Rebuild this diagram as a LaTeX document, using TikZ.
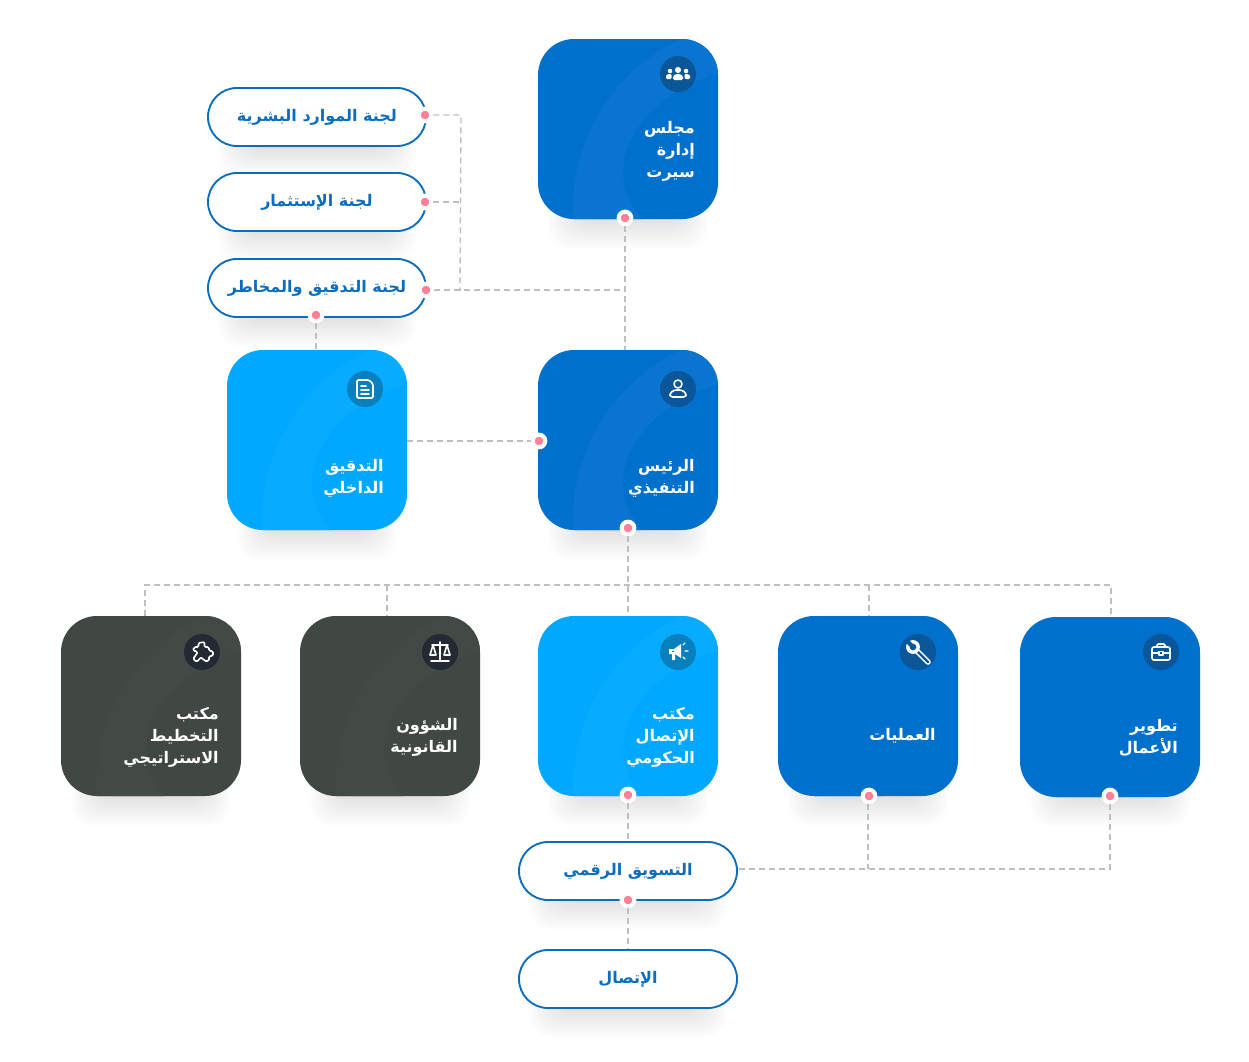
\documentclass[tikz,border=0pt]{standalone}
\usepackage{fontspec}
\TeXXeTstate=1
\newfontfamily\arfont[Script=Arabic]{DejaVu Sans}
\definecolor{bluecard}{HTML}{0070CD}
\definecolor{bluering}{HTML}{0A75D0}
\definecolor{blueicon}{HTML}{0B5599}
\definecolor{skycard}{HTML}{00A8FF}
\definecolor{skyring}{HTML}{07ABFF}
\definecolor{skyicon}{HTML}{0880BE}
\definecolor{darkcard}{HTML}{414743}
\definecolor{darkring}{HTML}{434945}
\definecolor{darkicon}{HTML}{232A33}
\definecolor{pillblue}{HTML}{0B6DBD}
\definecolor{dotpink}{HTML}{FF8099}
\definecolor{connect}{HTML}{BFBFBF}
\tikzset{
  cardbase/.style={rectangle,rounded corners=27pt,minimum width=135pt,minimum height=135pt,inner sep=0pt},
  pillbase/.style={rectangle,rounded corners=21.7pt,minimum width=163.5pt,minimum height=43.5pt,inner sep=0pt,draw=pillblue,line width=1.4pt,fill=white,text=pillblue,font=\arfont\bfseries\fontsize{12}{14}\selectfont},
  cardtext/.style={anchor=east,align=right,inner sep=0pt,text=white,font=\arfont\bfseries\fontsize{12}{16.5}\selectfont},
  conn/.style={draw=connect,line width=1.05pt,dash pattern=on 4.5pt off 3pt},
  pinkdot/.style={circle,fill=dotpink,draw=white,line width=3pt,minimum size=9.5pt,inner sep=0pt},
  badge/.style={circle,minimum size=27pt,inner sep=0pt},
  glyph/.style={draw=white,line width=1.2pt,line cap=round,line join=round,fill=none},
}
\newcommand{\softshadow}[4]{% x1 y1 x2 y2
  \foreach \s in {0,1,...,30}{
    \fill[black,opacity=0.0048,rounded corners=15pt] (#1+40-\s,#4-30) rectangle (#3-40+\s,#4+\s);
  }
}
\newcommand{\cardbox}[5]{% name cx cy fill ring
  \node[cardbase,fill=#4] (#1) at (#2,#3) {};
  \begin{scope}
    \clip[rounded corners=27pt] (#2-90,#3-90) rectangle (#2+90,#3+90);
    \fill[#5,even odd rule] (#2+133,#3+80) circle (141pt)
      (#2+92,#3-56) .. controls (#2+35,#3-40) and (#2-5,#3) .. (#2-5,#3+44)
      .. controls (#2-5,#3+60) and (#2+3,#3+78) .. (#2+15,#3+92) -- (#2+92,#3+92) -- cycle;
  \end{scope}
}
\newcommand{\badgeicon}[5]{% name x y fill glyph
  \node[badge,fill=#4] (#1) at (#2,#3) {};
  \begin{scope}[shift={(#2,#3)}]#5\end{scope}
}
\newcommand{\ar}[1]{\beginR #1\endR}
\newcommand{\pilltext}[1]{\raisebox{-1.2pt}{\ar{#1}}}
\newcommand{\gpeople}{
  \fill[white] (0,-4) circle (2.3pt);
  \fill[white] (-8,-3) circle (1.7pt) (8,-3) circle (1.7pt);
  \fill[white,rounded corners=1pt] (-5,6) -- (-5,2) -- (-2,0) -- (2,0) -- (5,2) -- (5,6) -- cycle;
  \fill[white,rounded corners=.8pt] (-12,5) -- (-12,1) -- (-9,0) -- (-6.5,0) -- (-6.5,5) -- cycle;
  \fill[white,rounded corners=.8pt] (12,5) -- (12,1) -- (9,0) -- (6.5,0) -- (6.5,5) -- cycle;
}
\newcommand{\guser}{
  \draw[glyph] (0,-5) circle (3pt);
  \draw[glyph,rounded corners=2pt] (-8,8) -- (-8,4) -- (-4,1) -- (4,1) -- (8,4) -- (8,8) -- cycle;
}
\newcommand{\gdoc}{
  \draw[glyph,rounded corners=1pt] (-8,-9) -- (4,-9) -- (8,-5) -- (8,9) -- (-8,9) -- cycle;
  \draw[glyph] (-4,-3) -- (1,-3) (-4,1) -- (4,1) (-4,5) -- (4,5);
}
\newcommand{\gpuzzle}{
  \draw[glyph,rounded corners=1.2pt] (-8,-5) -- (-3,-5) -- (-4,-9) -- (3,-10) -- (2,-5) -- (7,-5) -- (7,-1) -- (11,-1) -- (11,4) -- (7,4) -- (7,9) -- (2,9) -- (1,6) -- (-3,6) -- (-3,9) -- (-8,9) -- (-8,4) -- (-5,3) -- (-5,-1) -- (-9,-1) -- cycle;
}
\newcommand{\gscales}{
  \draw[glyph] (0,-10) -- (0,8) (-9,9) -- (9,9) (-8,-7) -- (8,-7);
  \draw[glyph] (-10,3) -- (-7,-7) -- (-4,3) -- cycle (4,3) -- (7,-7) -- (10,3) -- cycle;
}
\newcommand{\gmega}{
  \fill[white] (-9,-3) -- (-4,-3) -- (3,-8) -- (3,6) -- (-3,2) -- (-3,8) -- (-6,8) -- (-6,2) -- (-9,2) -- cycle;
  \fill[skyicon] (-6,-1) rectangle (-4,0);
  \draw[glyph,line width=.9pt] (7,-1) -- (10,-1) (5,-7) -- (7,-9) (5,5) -- (7,7);
}
\newcommand{\gwrench}{
  \draw[white,line width=4.2pt,line cap=round] (-2,-2) -- (10,10);
  \draw[blueicon,line width=1.7pt,line cap=round] (0,0) -- (10,10);
  \fill[white] (-5,-5) circle (5.2pt);
  \fill[blueicon] (-5,-5) circle (2.5pt);
  \draw[blueicon,line width=3pt] (-5,-5) -- (-12,-12);
}
\newcommand{\gcase}{
  \draw[glyph,rounded corners=1.5pt] (-9,-5) rectangle (9,8);
  \draw[glyph,rounded corners=1pt] (-4,-5) -- (-4,-8) -- (4,-8) -- (4,-5);
  \draw[glyph] (-9,1) -- (-2.5,1) (2.5,1) -- (9,1);
  \draw[glyph,line width=.9pt] (-2,-.5) rectangle (2,3);
}
\begin{document}
\begin{tikzpicture}[x=.75pt,y=-.75pt]
\useasboundingbox (0,0) rectangle (1249,1061);
\fill[white] (0,0) rectangle (1249,1061);
% shadows
\softshadow{538}{39}{718}{219}
\softshadow{538}{350}{718}{530}
\softshadow{227}{350}{407}{530}
\softshadow{61}{616}{241}{796}
\softshadow{300}{616}{480}{796}
\softshadow{538}{616}{718}{796}
\softshadow{778}{616}{958}{796}
\softshadow{1020}{617}{1200}{797}
\softshadow{208}{88}{426}{146}
\softshadow{208}{173}{426}{231}
\softshadow{208}{259}{426}{317}
\softshadow{519}{842}{737}{900}
\softshadow{519}{950}{737}{1008}
% junctions
\coordinate (jHR) at (461,115);
\coordinate (jInv) at (460,202);
\coordinate (jAud) at (460,290);
\coordinate (jCeo) at (625,290);
\coordinate (bus1) at (145,585);
\coordinate (bus2) at (387,585);
\coordinate (bus3) at (628,585);
\coordinate (bus4) at (869,585);
\coordinate (bus5) at (1111,585);
\coordinate (jOps) at (868,869);
\coordinate (jBiz) at (1110,869);
% cards
\cardbox{board}{628}{129}{bluecard}{bluering}
\cardbox{ceo}{628}{440}{bluecard}{bluering}
\cardbox{audit}{317}{440}{skycard}{skyring}
\cardbox{strategy}{151}{706}{darkcard}{darkring}
\cardbox{legal}{390}{706}{darkcard}{darkring}
\cardbox{comm}{628}{706}{skycard}{skyring}
\cardbox{ops}{868}{706}{bluecard}{bluecard}
\cardbox{biz}{1110}{707}{bluecard}{bluecard}
% pills
\node[pillbase] (pHR) at (317,117) {\pilltext{لجنة الموارد البشرية}};
\node[pillbase] (pInv) at (317,202) {\pilltext{لجنة الإستثمار}};
\node[pillbase] (pAud) at (317,288) {\pilltext{لجنة التدقيق والمخاطر}};
\node[pillbase] (pDig) at (628,871) {\pilltext{التسويق الرقمي}};
\node[pillbase] (pCon) at (628,979) {\pilltext{الإتصال}};
% dots
\node[pinkdot] (dBoard) at (625,218) {};
\node[pinkdot] (dCeoL) at (539,441) {};
\node[pinkdot] (dCeoB) at (628,528) {};
\node[pinkdot] (dHR) at (425,115) {};
\node[pinkdot] (dInv) at (425,202) {};
\node[pinkdot] (dAud) at (426,290) {};
\node[pinkdot] (dAudB) at (316,315) {};
\node[pinkdot] (dComm) at (628,795) {};
\node[pinkdot] (dOps) at (869,796) {};
\node[pinkdot] (dBiz) at (1110,796) {};
\node[pinkdot] (dDig) at (628,900) {};
% connectors
\draw[conn] (dHR.east) -- (jHR) -- (jAud);
\draw[conn] (dInv.east) -- (jInv);
\draw[conn] (dAud.east) -- (jAud) -- (jCeo);
\draw[conn] (dBoard.south) -- (jCeo) -- (jCeo |- ceo.north);
\draw[conn] (dAudB.south) -- (dAudB |- audit.north);
\draw[conn] (audit.east |- dCeoL) -- (dCeoL.west);
\draw[conn] (dCeoB.south) -- (bus3) -- (bus3 |- comm.north);
\draw[conn] (bus1 |- strategy.north) -- (bus1) -- (bus5) -- (bus5 |- biz.north);
\draw[conn] (bus2) -- (bus2 |- legal.north);
\draw[conn] (bus4) -- (bus4 |- ops.north);
\draw[conn] (dComm.south) -- (dComm |- pDig.north);
\draw[conn] (dOps.south -| jOps) -- (jOps);
\draw[conn] (dBiz.south) -- (jBiz) -- (pDig.east |- jBiz);
\draw[conn] (dDig.south) -- (dDig |- pCon.north);
% icons
\badgeicon{iBoard}{678}{74}{blueicon}{\gpeople}
\badgeicon{iCeo}{678}{389}{blueicon}{\guser}
\badgeicon{iAudit}{365}{389}{skyicon}{\gdoc}
\badgeicon{iStrat}{202}{652}{darkicon}{\gpuzzle}
\badgeicon{iLegal}{440}{652}{darkicon}{\gscales}
\badgeicon{iComm}{678}{652}{skyicon}{\gmega}
\badgeicon{iOps}{918}{652}{blueicon}{\gwrench}
\badgeicon{iBiz}{1161}{652}{blueicon}{\gcase}
% card labels
\node[cardtext] (tBoard) at (695,151) {\ar{مجلس}\\\ar{إدارة}\\\ar{سيرت}};
\node[cardtext] (tCeo) at (695,478) {\ar{الرئيس}\\\ar{التنفيذي}};
\node[cardtext] (tAudit) at (384,478) {\ar{التدقيق}\\\ar{الداخلي}};
\node[cardtext] (tStrat) at (219,737) {\ar{مكتب}\\\ar{التخطيط}\\\ar{الاستراتيجي}};
\node[cardtext] (tLegal) at (458,737) {\ar{الشؤون}\\\ar{القانونية}};
\node[cardtext] (tComm) at (695,737) {\ar{مكتب}\\\ar{الإتصال}\\\ar{الحكومي}};
\node[cardtext] (tOps) at (936,736) {\ar{العمليات}};
\node[cardtext] (tBiz) at (1178,738) {\ar{تطوير}\\\ar{الأعمال}};
\end{tikzpicture}
\end{document}
